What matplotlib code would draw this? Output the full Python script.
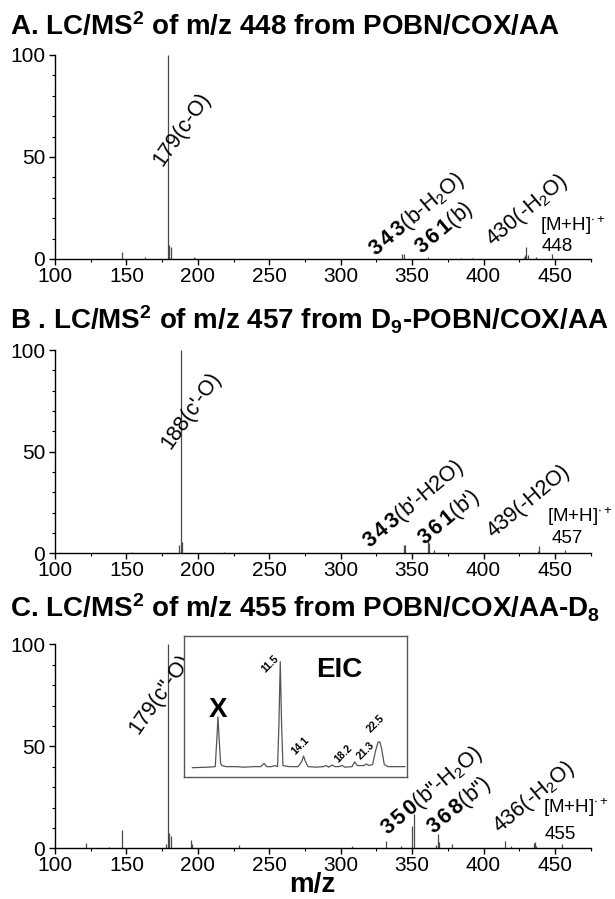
import numpy as np
import matplotlib.pyplot as plt
from matplotlib.ticker import MultipleLocator

plt.rcParams['font.family'] = ['Liberation Sans', 'DejaVu Sans']
plt.rcParams['mathtext.fontset'] = 'custom'
plt.rcParams['mathtext.rm'] = 'Liberation Sans'
plt.rcParams['mathtext.bf'] = 'Liberation Sans:bold'
plt.rcParams['mathtext.it'] = 'Liberation Sans:italic'

# MS2 spectra (m/z, relative intensity)
mz_a = [147, 163, 179, 180, 181, 197, 198, 343, 344, 361, 384, 392, 428, 429, 430, 431, 437, 448]
int_a = [3.3, 1.2, 100, 7, 6, 1, 0.7, 2.6, 2.6, 0.8, 0.7, 0.4, 1, 2, 5.7, 2, 1, 2.5]

mz_b = [154, 187, 188, 189, 218, 344, 345, 361, 362, 365, 438, 439, 457]
int_b = [0.6, 4, 100, 5.7, 0.5, 4, 4, 7, 5, 1.5, 1, 3.6, 1.8]

mz_c = [122, 138, 147, 178, 179, 180, 181, 195, 196, 229, 308, 332, 342, 350, 351,
        367, 368, 369, 378, 415, 419, 435, 436, 437, 455]
int_c = [2.5, 0.8, 9, 2, 100, 7.4, 6, 4, 2, 1.5, 1.3, 3.6, 1, 11, 16.8,
         1.5, 7, 3, 2, 3.6, 1, 2.5, 3, 1, 2]

# EIC trace (time in min, relative intensity)
eic_t = [1.7, 3.5, 4.25, 4.45, 4.55, 4.7, 4.85, 5.0, 5.5, 6.5, 7.5, 8.5, 9.3, 9.7, 10.0,
         10.5, 10.9, 11.2, 11.35, 11.5, 11.65, 11.8, 12.5, 13.5, 13.9, 14.1, 14.3, 14.6,
         15.5, 16.3, 16.6, 16.9, 17.3, 17.6, 18.0, 18.4, 18.7, 19.5, 19.8, 20.1, 20.8,
         21.1, 21.4, 21.8, 22.1, 22.4, 22.6, 22.8, 23.1, 23.5, 24.5, 25.4]
eic_i = [0, 0.5, 1, 30, 48, 25, 4, 2, 1, 1, 0.5, 1, 1, 4, 1,
         1, 2, 1, 40, 100, 40, 2, 1, 1, 6, 11, 6, 1,
         0.5, 1, 2, 0.5, 2.5, 1, 1, 2, 0.5, 1, 5.5, 2, 2,
         3.5, 2, 3, 15, 24, 24.5, 18, 3, 1, 1, 1]
eic_labels = ['11.5', '14.1', '18.2', '21.3', '22.5']
eic_label_pos = [(9.83, 89), (13.17, 12), (17.96, 4.7), (20.5, 7.3), (21.6, 32.5)]

titles = [
    'A. LC/MS$^{\\mathbf{2}}$ of m/z 448 from POBN/COX/AA',
    'B . LC/MS$^{\\mathbf{2}}$ of m/z 457 from D$_{\\mathbf{9}}$-POBN/COX/AA',
    'C. LC/MS$^{\\mathbf{2}}$ of m/z 455 from POBN/COX/AA-D$_{\\mathbf{8}}$',
]
title_y = [35, 330, 617]

# peak annotations: (text, m/z, intensity, rotation, ha, va)
notes_a = [('179(c-O)', 200, 83.7, 55, 'right', 'top'),
           ('$\\mathbf{3\\,4\\,3}$(b-H$_2$O)', 324.7, 1, 40, 'left', 'baseline'),
           ('$\\mathbf{3\\,6\\,1}$(b)', 356.7, 2, 40, 'left', 'baseline'),
           ('430(-H$_2$O)', 406.4, 6, 40, 'left', 'baseline')]
notes_b = [("188(c'-O)", 207.5, 91, 55, 'right', 'top'),
           ("$\\mathbf{3\\,4\\,3}$(b'-H2O)", 320.5, 2.5, 40, 'left', 'baseline'),
           ("$\\mathbf{3\\,6\\,1}$(b')", 359, 4, 40, 'left', 'baseline'),
           ('439(-H2O)', 407, 7.4, 40, 'left', 'baseline')]
notes_c = [('179(c"-O)', 186.5, 97, 55, 'right', 'top'),
           ('$\\mathbf{3\\,5\\,0}$(b"-H$_2$O)', 332.6, 6, 40, 'left', 'baseline'),
           ('$\\mathbf{3\\,6\\,8}$(b")', 364.8, 6.5, 40, 'left', 'baseline'),
           ('436(-H$_2$O)', 411, 7, 40, 'left', 'baseline')]
parent = [('448', 439.5, 16.4, 451.7, 6.1), ('457', 444.6, 18.2, 458.4, 7.4),
          ('455', 441.4, 19.8, 454, 6.6)]

fig = plt.figure(figsize=(6.15, 8.99), dpi=100)
W, H = 615, 899
tops = [55, 350, 644.3]
bots = [259, 553.3, 848.3]
spectra = [(mz_a, int_a, notes_a), (mz_b, int_b, notes_b), (mz_c, int_c, notes_c)]

for k in range(3):
    ax = fig.add_axes([55 / W, 1 - bots[k] / H, 535.7 / W, (bots[k] - tops[k]) / H])
    mz, inten, notes = spectra[k]
    ax.vlines(mz, 0, inten, color='#4a4a4a', lw=0.9)
    ax.set_xlim(100, 475)
    ax.set_ylim(0, 100)
    ax.set_xticks([100, 150, 200, 250, 300, 350, 400, 450])
    ax.set_yticks([0, 50, 100])
    ax.xaxis.set_minor_locator(MultipleLocator(25))
    ax.yaxis.set_minor_locator(MultipleLocator(10))
    ax.tick_params(which='major', direction='out', length=4, width=1, labelsize=15)
    ax.tick_params(which='minor', direction='out', length=2.4, width=0.8)
    ax.tick_params(axis='x', pad=1.5)
    ax.tick_params(axis='y', pad=3)
    for s in ['top', 'right']:
        ax.spines[s].set_visible(False)
    for s in ['left', 'bottom']:
        ax.spines[s].set_linewidth(1)
    for txt, x, y, rot, ha, va in notes:
        ax.text(x, y, txt, rotation=rot, rotation_mode='anchor', ha=ha, va=va,
                fontsize=15.5)
    num, xm, ym, xn, yn = parent[k]
    ax.text(xm, ym, '[M+H]$^{\\bullet+}$', fontsize=13.5, ha='left', va='center')
    ax.text(xn, yn, num, fontsize=13.5, ha='center', va='center')
    fig.text(10 / W, 1 - title_y[k] / H, titles[k], fontsize=20, fontweight='bold',
             ha='left', va='baseline')

fig.text(312 / W, 1 - 892 / H, 'm/z', fontsize=20, fontweight='bold', ha='center', va='baseline')

# EIC inset in panel C
ins = fig.add_axes([184.3 / W, 1 - 776.7 / H, 222.4 / W, 140.7 / H])
ins.plot(eic_t, eic_i, color='#555555', lw=0.9)
ins.set_xlim(0.8, 25.6)
ins.set_ylim(-8.5, 124.3)
ins.set_xticks([])
ins.set_yticks([])
for s in ins.spines.values():
    s.set_color('#555555')
    s.set_linewidth(1)
for lab, (tx, ty) in zip(eic_labels, eic_label_pos):
    ins.text(tx, ty, lab, rotation=45, rotation_mode='anchor', ha='left', va='baseline',
             fontsize=7.5, fontweight='bold')
ins.text(4.55, 54, 'X', fontsize=20, fontweight='bold', ha='center', va='center')
ins.text(18.1, 92, 'EIC', fontsize=20, fontweight='bold', ha='center', va='center')

fig.savefig('out.png', dpi=100)
